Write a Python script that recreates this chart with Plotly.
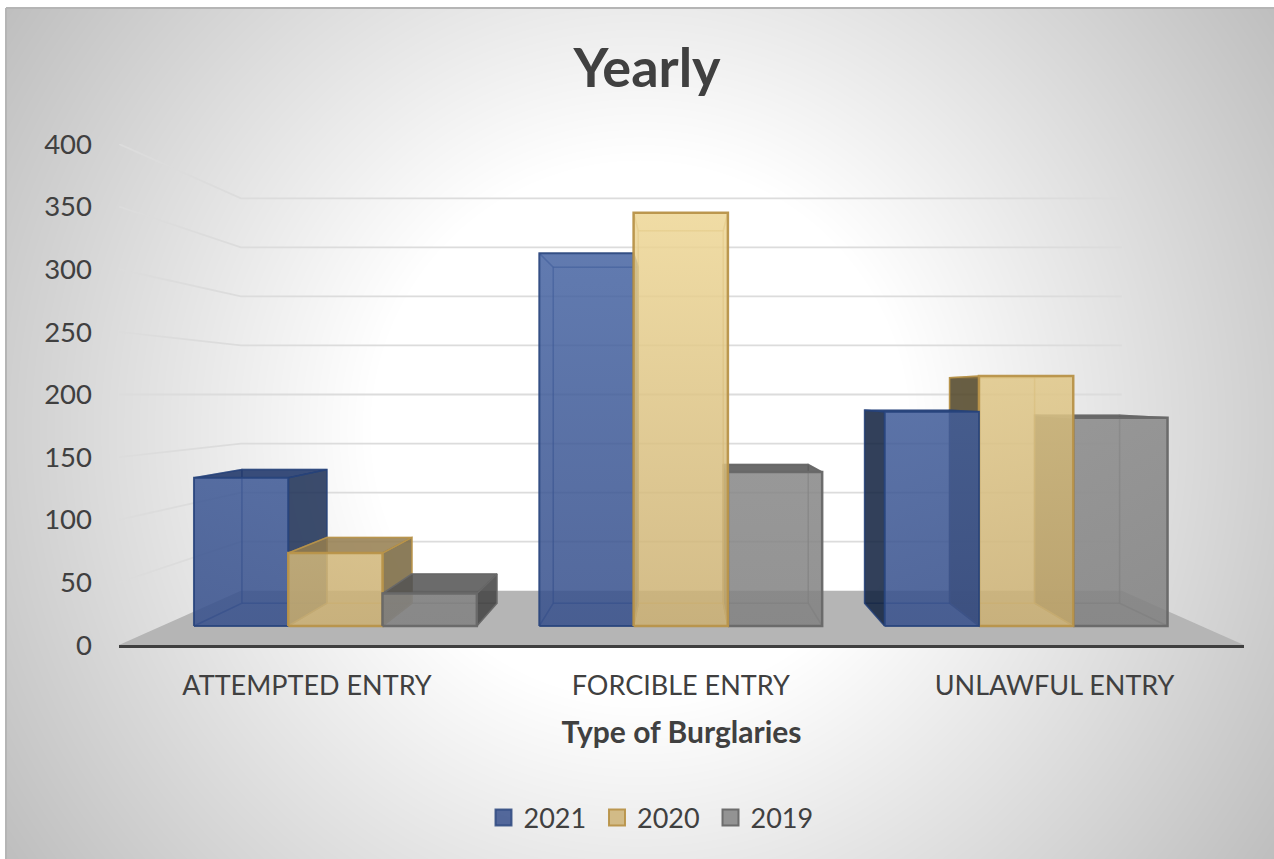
import base64
import struct
import zlib

import numpy as np
import plotly.graph_objects as go

# ---- Data ----------------------------------------------------------------
CATEGORIES = ["ATTEMPTED ENTRY", "FORCIBLE ENTRY", "UNLAWFUL ENTRY"]
YEARS = ["2021", "2020", "2019"]
VALUES_2021 = [128, 322, 185]
VALUES_2020 = [63, 357, 216]
VALUES_2019 = [28, 133, 180]
VALUE_TICKS = [0, 50, 100, 150, 200, 250, 300, 350, 400]

SERIES = [VALUES_2021, VALUES_2020, VALUES_2019]

# ---- Page and plot geometry ----------------------------------------------
WIDTH, HEIGHT = 1274, 859
LEFT, RIGHT, TOP, BOTTOM = 119, 1244, 144, 645
X_MIN, X_MAX = -0.503, 2.507
FONT = "Lato"
TEXT = "#404040"

# ---- Perspective of the 3-D box: depth scale 1 is the front plane -------
VANISH_X, VANISH_V = 1.0, 200.0
WALL_DEPTH = 0.783
BAR_FRONT = 0.924
BAR_BACK = 0.833
BAR_WIDTH = 0.273

# ---- Series styling ------------------------------------------------------
STYLES = [
    dict(edge="rgba(38,66,122,0.8)", low="rgba(55,80,140,0.85)", high="rgba(74,104,166,0.85)",
         side="rgba(28,47,85,0.85)", left="rgba(16,33,62,0.85)", top="rgba(26,49,102,0.85)",
         inner="rgba(30,55,110,0.07)", line_width=2),
    dict(edge="rgba(184,148,74,0.95)", low="rgba(204,177,116,0.85)", high="rgba(239,216,151,0.85)",
         side="rgba(120,102,62,0.85)", left="rgba(80,68,38,0.85)", top="rgba(149,126,79,0.85)",
         inner="rgba(130,105,60,0.06)", line_width=2.5),
    dict(edge="rgba(104,104,104,0.95)", low="rgba(130,130,130,0.85)", high="rgba(146,146,146,0.85)",
         side="rgba(67,67,67,0.85)", left="rgba(55,55,55,0.85)", top="rgba(84,84,84,0.85)",
         inner="rgba(70,70,70,0.07)", line_width=2.5),
]


def radial_backdrop():
    """Grey-to-white radial fill encoded as a PNG data URI."""
    w, h = WIDTH - 6, HEIGHT - 8
    xx, yy = np.meshgrid(np.arange(w) + 6, np.arange(h) + 8)
    dist = np.hypot(xx - 640, yy - 430)
    grey = np.clip(255 - np.clip(dist - 270, 0, None) * 0.13, 0, 255).astype(np.uint8)
    raw = b"".join(b"\x00" + row.tobytes() for row in grey)

    def chunk(tag, body):
        return struct.pack(">I", len(body)) + tag + body + struct.pack(">I", zlib.crc32(tag + body))

    png = (b"\x89PNG\r\n\x1a\n"
           + chunk(b"IHDR", struct.pack(">IIBBBBB", w, h, 8, 0, 0, 0, 0))
           + chunk(b"IDAT", zlib.compress(raw, 9))
           + chunk(b"IEND", b""))
    return "data:image/png;base64," + base64.b64encode(png).decode()


def project(x, v, depth):
    """Map a point of the front plane to its position at the given depth."""
    return VANISH_X + (x - VANISH_X) * depth, VANISH_V + (v - VANISH_V) * depth


def polygon(points, fill=None, line=None, width=1.5, gradient=None):
    xs, ys = zip(*[project(*p) for p in points])
    spec = dict(
        x=list(xs) + [xs[0]], y=list(ys) + [ys[0]], mode="lines", fill="toself",
        line=dict(color=line or "rgba(0,0,0,0)", width=width),
        hoverinfo="skip", showlegend=False,
    )
    if gradient:
        spec["fillgradient"] = gradient
    else:
        spec["fillcolor"] = fill
    return go.Scatter(**spec)


def box_traces(x0, x1, v, style):
    f, b = BAR_FRONT, BAR_BACK
    edge = style["edge"]
    inner = style["inner"]
    soft = edge.rsplit(",", 1)[0] + ",0.4)"

    faces = []
    # back and floor of the box are only seen through the front
    faces.append(polygon([(x0, 0, b), (x1, 0, b), (x1, v, b), (x0, v, b)], inner, soft, 1.5))
    faces.append(polygon([(x0, 0, f), (x1, 0, f), (x1, 0, b), (x0, 0, b)], inner, soft, 1.5))

    left_seen = x0 > VANISH_X
    right_seen = x1 < VANISH_X
    top_seen = v < VANISH_V

    faces.append(polygon([(x0, 0, f), (x0, 0, b), (x0, v, b), (x0, v, f)],
                         style["left"] if left_seen else inner, edge if left_seen else soft, 1.5))
    faces.append(polygon([(x1, 0, f), (x1, 0, b), (x1, v, b), (x1, v, f)],
                         style["side"] if right_seen else inner, edge if right_seen else soft, 1.5))
    faces.append(polygon([(x0, v, f), (x1, v, f), (x1, v, b), (x0, v, b)],
                         style["top"] if top_seen else inner, edge if top_seen else soft, 1.5))
    faces.append(polygon(
        [(x0, 0, f), (x1, 0, f), (x1, v, f), (x0, v, f)],
        line=edge, width=style["line_width"],
        gradient=dict(type="vertical", start=project(0, 0, f)[1], stop=project(0, 360, f)[1],
                      colorscale=[[0, style["low"]], [1, style["high"]]]),
    ))
    return faces


fig = go.Figure()

# Floor of the chart box
fig.add_trace(polygon([(X_MIN, 0, 1), (X_MAX, 0, 1), (X_MAX, 0, WALL_DEPTH), (X_MIN, 0, WALL_DEPTH)], "#b5b5b5"))

# Gridlines run along the left wall and across the back wall
for tick in VALUE_TICKS[1:]:
    xs, ys = zip(project(X_MIN, tick, 1), project(X_MIN, tick, WALL_DEPTH), project(X_MAX, tick, WALL_DEPTH))
    fig.add_trace(go.Scatter(x=xs, y=ys, mode="lines", line=dict(color="#dcdcdc", width=1.8),
                             hoverinfo="skip", showlegend=False))

# Boxes furthest from the vanishing point are painted first
boxes = []
for c in range(len(CATEGORIES)):
    for s, values in enumerate(SERIES):
        x0 = c + (s - 1.5) * BAR_WIDTH
        boxes.append((abs(x0 + BAR_WIDTH / 2 - VANISH_X), c, x0, values[c], STYLES[s]))
boxes.sort(key=lambda item: (item[1], -item[0]))
for _, _, x0, value, style in boxes:
    for face in box_traces(x0, x0 + BAR_WIDTH, value, style):
        fig.add_trace(face)

# Legend swatches
for year, style in zip(YEARS, STYLES):
    fig.add_trace(go.Scatter(
        x=[None], y=[None], mode="markers", name=year,
        marker=dict(symbol="square", size=16, color=style["low"], line=dict(color=style["edge"], width=2)),
    ))

fig.update_layout(
    width=WIDTH, height=HEIGHT,
    margin=dict(l=LEFT, r=WIDTH - RIGHT, t=TOP, b=HEIGHT - BOTTOM, pad=0, autoexpand=False),
    paper_bgcolor="white", plot_bgcolor="rgba(0,0,0,0)",
    font=dict(family=FONT, color=TEXT),
    title=dict(text="<b>Yearly</b>", x=647 / WIDTH, xanchor="center", y=1 - 68 / HEIGHT, yanchor="middle",
               font=dict(family=FONT, size=54, color=TEXT)),
    xaxis=dict(
        range=[X_MIN, X_MAX], tickmode="array", tickvals=list(range(len(CATEGORIES))), ticktext=CATEGORIES,
        showgrid=False, zeroline=False, showline=True, linecolor="#3f3f3f", linewidth=3, ticks="",
        tickfont=dict(family=FONT, size=27, color=TEXT), ticklabelstandoff=15,
        title=dict(text="<b>Type of Burglaries</b>", font=dict(family=FONT, size=30, color=TEXT), standoff=22),
    ),
    yaxis=dict(
        range=[0, 400], tickmode="array", tickvals=VALUE_TICKS, ticktext=[str(t) for t in VALUE_TICKS],
        showgrid=False, zeroline=False, showline=False, ticks="",
        tickfont=dict(family=FONT, size=27.5, color=TEXT), ticklabelstandoff=26,
    ),
    legend=dict(
        orientation="h", x=(654 - LEFT) / (RIGHT - LEFT), xanchor="center",
        y=(BOTTOM - 818) / (BOTTOM - TOP), yanchor="middle",
        font=dict(family=FONT, size=27, color=TEXT), bgcolor="rgba(0,0,0,0)",
        entrywidth=68.5, entrywidthmode="pixels",
        itemclick=False, itemdoubleclick=False,
    ),
    images=[dict(
        source=radial_backdrop(), xref="paper", yref="paper",
        x=(6 - LEFT) / (RIGHT - LEFT), y=(BOTTOM - 8) / (BOTTOM - TOP),
        sizex=(WIDTH - 6) / (RIGHT - LEFT), sizey=(HEIGHT - 8) / (BOTTOM - TOP),
        sizing="stretch", xanchor="left", yanchor="top", layer="below",
    )],
    shapes=[
        dict(type="line", xref="paper", yref="paper", x0=(6 - LEFT) / (RIGHT - LEFT), x1=(6 - LEFT) / (RIGHT - LEFT),
             y0=(BOTTOM - 8) / (BOTTOM - TOP), y1=(BOTTOM - HEIGHT) / (BOTTOM - TOP),
             line=dict(color="#b5b5b5", width=2), layer="below"),
        dict(type="line", xref="paper", yref="paper", x0=(6 - LEFT) / (RIGHT - LEFT), x1=(WIDTH - LEFT) / (RIGHT - LEFT),
             y0=(BOTTOM - 8) / (BOTTOM - TOP), y1=(BOTTOM - 8) / (BOTTOM - TOP),
             line=dict(color="#b5b5b5", width=2), layer="below"),
    ],
)

fig.write_html("out.html", config=dict(displayModeBar=False))
